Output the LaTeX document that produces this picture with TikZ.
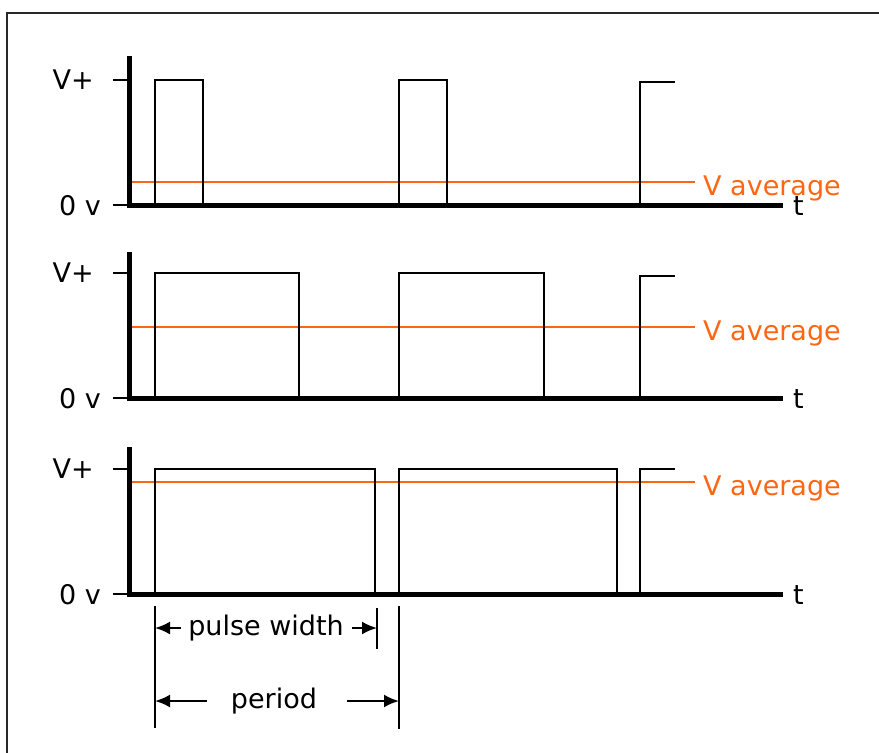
\documentclass[tikz,border=0pt]{standalone}
\usepackage{fontspec}
\setmainfont{DejaVu Sans}
\usetikzlibrary{arrows.meta}
\definecolor{avg}{RGB}{255,102,17}
\definecolor{frame}{RGB}{40,40,40}
\begin{document}
\begin{tikzpicture}[x=1pt,y=-1pt,
  axis/.style={line width=5pt},
  tickln/.style={line width=2.4pt},
  pulse/.style={line width=2.5pt, line join=miter},
  avgline/.style={avg, line width=2.5pt},
  lbl/.style={font=\fontsize{27}{27}\selectfont, inner sep=0pt},
  avglbl/.style={lbl, text=avg, anchor=base west},
  dimln/.style={line width=2.2pt},
  dimarr/.style={line width=2.2pt, -{Latex[length=15pt,width=13pt]}}]
\useasboundingbox (0,0) rectangle (879,753);
\draw[frame, line width=2.5pt] (7,770) -- (7,13) -- (890,13);

% ---------- panel 1 ----------
\draw[avgline] (131,182) -- (695,182);
\draw[pulse] (155,205) -- (155,80) -- (203,80) -- (203,205);
\draw[pulse] (399,205) -- (399,80) -- (447,80) -- (447,205);
\draw[pulse] (640,205) -- (640,82) -- (675,82);
\draw[tickln] (113,80) -- (129,80);
\draw[tickln] (113,205) -- (129,205);
\draw[axis] (129,56) -- (129,205) -- (783,205);
\node[lbl, anchor=east] (vp1) at (94,80) {V+};
\node[lbl, anchor=east] (zv1) at (101,206) {0 v};
\node[avglbl] (va1) at (703,195) {V average};
\node[lbl, anchor=base west] (t1) at (793,215) {t};

% ---------- panel 2 ----------
\draw[avgline] (131,327) -- (695,327);
\draw[pulse] (155,398) -- (155,273) -- (299,273) -- (299,398);
\draw[pulse] (399,398) -- (399,273) -- (544,273) -- (544,398);
\draw[pulse] (640,398) -- (640,276) -- (675,276);
\draw[tickln] (113,273) -- (129,273);
\draw[tickln] (113,398) -- (129,398);
\draw[axis] (129,252) -- (129,398) -- (783,398);
\node[lbl, anchor=east] (vp2) at (94,273) {V+};
\node[lbl, anchor=east] (zv2) at (101,399) {0 v};
\node[avglbl] (va2) at (703,340) {V average};
\node[lbl, anchor=base west] (t2) at (793,408) {t};

% ---------- panel 3 ----------
\draw[avgline] (131,482) -- (695,482);
\draw[pulse] (155,594) -- (155,469) -- (375,469) -- (375,594);
\draw[pulse] (399,594) -- (399,469) -- (617,469) -- (617,594);
\draw[pulse] (640,594) -- (640,469) -- (675,469);
\draw[tickln] (113,469) -- (129,469);
\draw[tickln] (113,594) -- (129,594);
\draw[axis] (129,447) -- (129,594) -- (783,594);
\node[lbl, anchor=east] (vp3) at (94,469) {V+};
\node[lbl, anchor=east] (zv3) at (101,595) {0 v};
\node[avglbl] (va3) at (703,495) {V average};
\node[lbl, anchor=base west] (t3) at (793,604) {t};

% ---------- dimensions ----------
\coordinate (d1t) at (155,606);
\coordinate (d1b) at (155,728);
\coordinate (d2t) at (377,608);
\coordinate (d2b) at (377,649);
\coordinate (d3t) at (399,606);
\coordinate (d3b) at (399,729);
\draw[dimln] (d1t) -- (d1b);
\draw[dimln] (d2t) -- (d2b);
\draw[dimln] (d3t) -- (d3b);
\node[lbl, anchor=base] (pw) at (266,635) {pulse width};
\node[lbl, anchor=base] (per) at (274,708) {period};
\coordinate (pwl) at (155,628);
\coordinate (pwr) at (377,628);
\coordinate (pel) at (155,701);
\coordinate (per2) at (399,701);
\draw[dimarr] (181,628) -- (pwl);
\draw[dimarr] (352,628) -- (pwr);
\draw[dimarr] (207,701) -- (pel);
\draw[dimarr] (347,701) -- (per2);
\end{tikzpicture}
\end{document}
